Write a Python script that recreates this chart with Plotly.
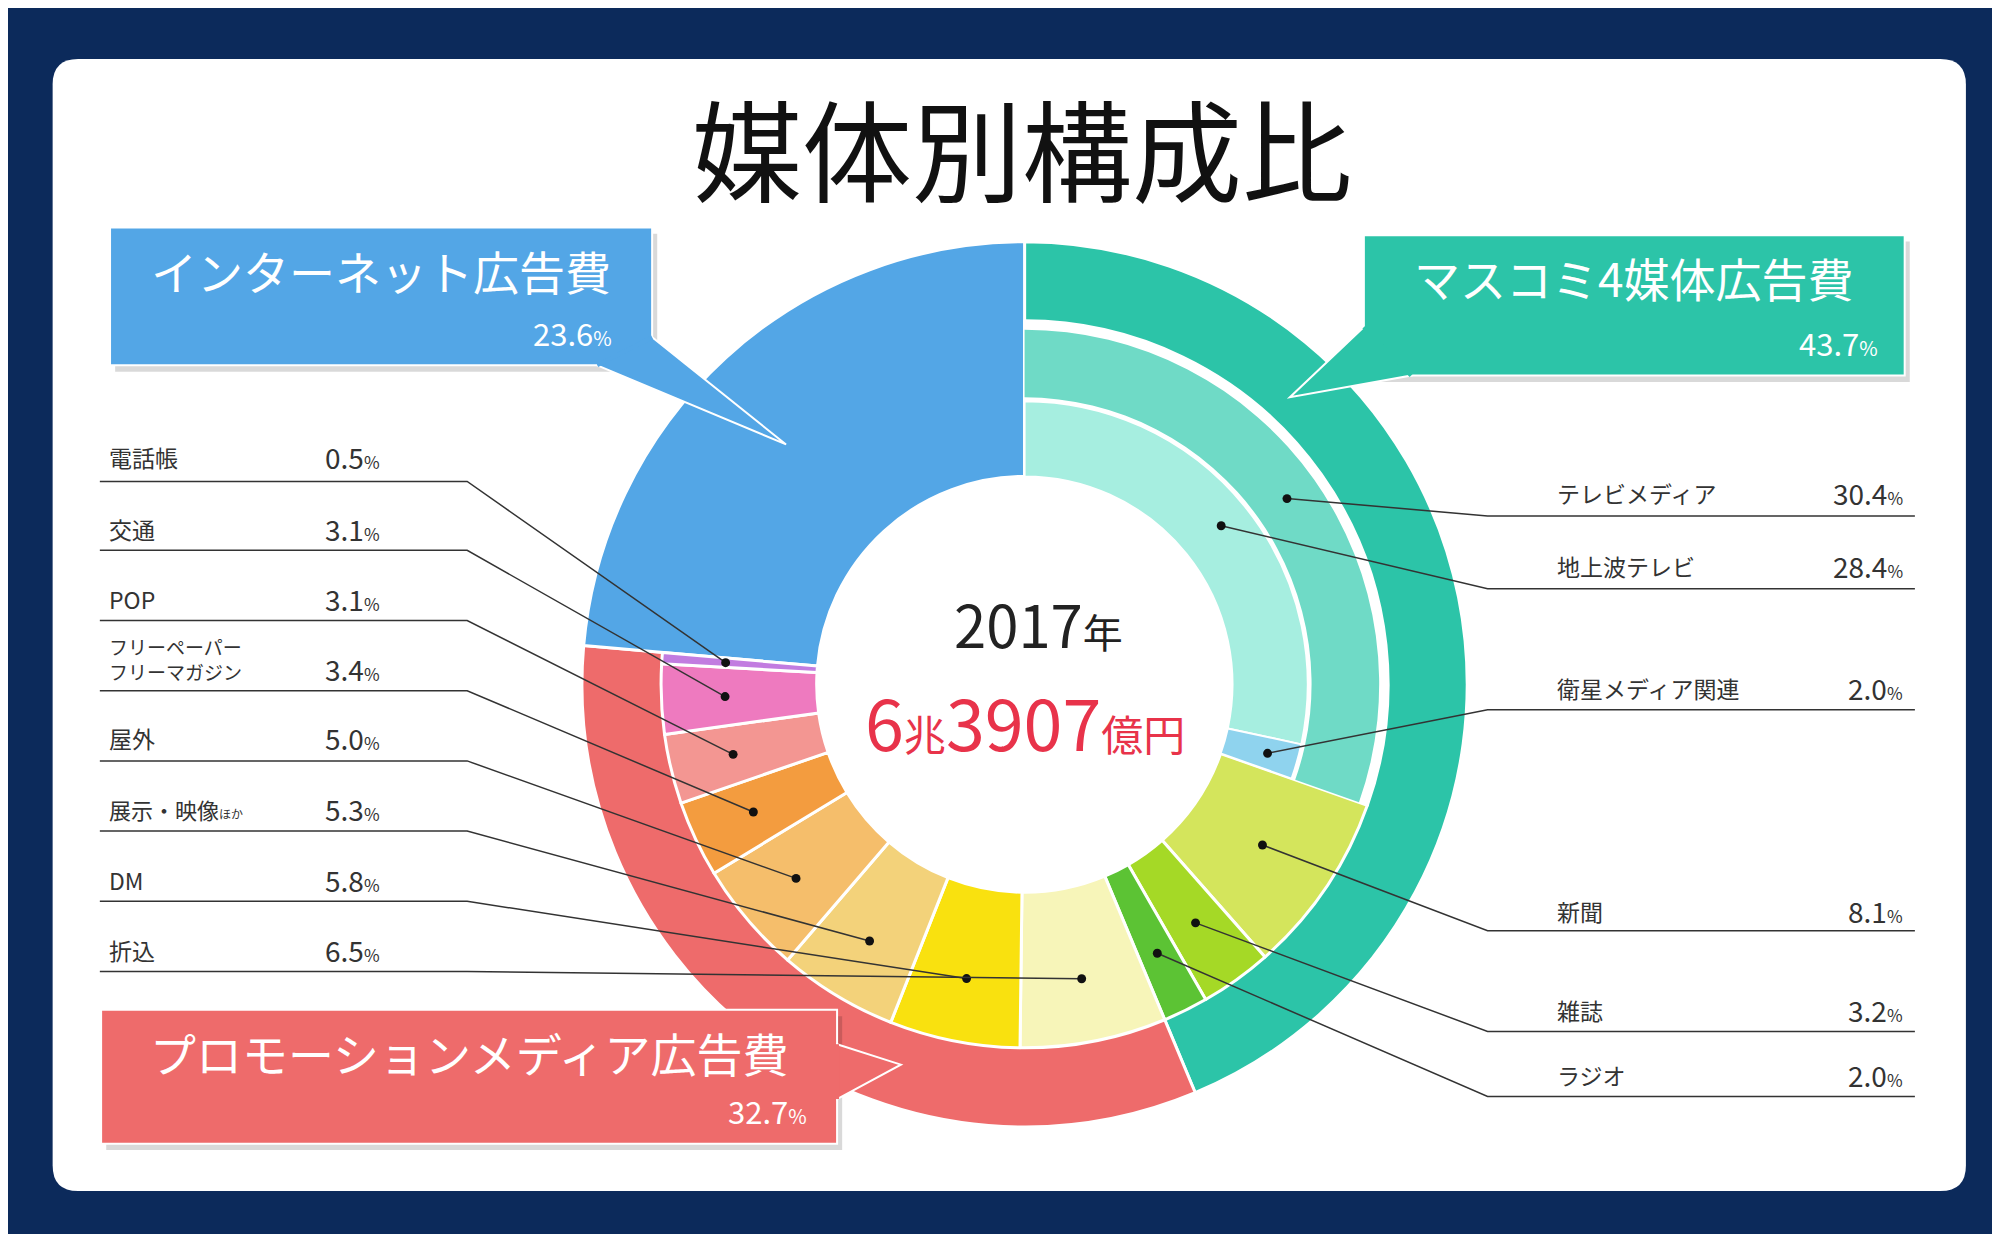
import math
import plotly.graph_objects as go

# ---- data ----
groups = ["マスコミ4媒体広告費", "プロモーションメディア広告費", "インターネット広告費"]
group_pct = [43.7, 32.7, 23.6]

mass_names = ["テレビメディア", "新聞", "雑誌", "ラジオ"]
mass_pct = [30.4, 8.1, 3.2, 2.0]
tv_names = ["地上波テレビ", "衛星メディア関連"]
tv_pct = [28.4, 2.0]

promo_names = ["折込", "DM", "展示・映像ほか", "屋外", "フリーペーパー・フリーマガジン", "POP", "交通", "電話帳"]
promo_pct = [6.5, 5.8, 5.3, 5.0, 3.4, 3.1, 3.1, 0.5]

year_text = "2017"
total_text = ["6", "兆", "3907", "億円"]

# ---- styles ----
FONT = "Noto Sans CJK JP"
TEAL, RED, BLUE = "#2CC4A8", "#EE6B6B", "#53A6E6"
mass_colors = ["#FFFFFF", "#D4E55C", "#A5D926", "#5CC334"]
tv_mid_color = "#6FDAC6"
tv_colors = ["#A6EEE0", "#8FD3EE"]
promo_colors = ["#F7F5B9", "#F9E10F", "#F3D27A", "#F5BE6B", "#F39C3F", "#F39692", "#EE7ABF", "#C27CE0"]

W, H = 1568, 967          # reference pixel space
CX, CY = 797, 530
R_OUT, R_MID, R_TVM_IN, R_IN, R_HOLE = 347, 285, 225, 222, 163
R_TVM = 278


def dom(r):
    return dict(x=[(CX - r) / W, (CX + r) / W], y=[1 - (CY + r) / H, 1 - (CY - r) / H])


fig = go.Figure()
common = dict(sort=False, direction="clockwise", rotation=0, textinfo="none",
              hoverinfo="skip", showlegend=False)

# outer ring (internet fills down to the hole)
fig.add_trace(go.Pie(values=group_pct, domain=dom(R_OUT), hole=R_HOLE / R_OUT,
                     marker=dict(colors=[TEAL, RED, BLUE], line=dict(color="white", width=3)), **common))

# middle ring
mid_vals = mass_pct + promo_pct + [group_pct[2]]
mid_cols = mass_colors + promo_colors + ["rgba(0,0,0,0)"]
mid_w = [3] * (len(mid_vals) - 1) + [0]
fig.add_trace(go.Pie(values=mid_vals, domain=dom(R_MID), hole=R_HOLE / R_MID,
                     marker=dict(colors=mid_cols, line=dict(color="white", width=mid_w)), **common))

rest = round(100 - mass_pct[0], 1)
fig.add_trace(go.Pie(values=[mass_pct[0], rest], domain=dom(R_TVM), hole=R_TVM_IN / R_TVM,
                     marker=dict(colors=[tv_mid_color, "rgba(0,0,0,0)"], line=dict(width=0)), **common))
fig.add_trace(go.Pie(values=tv_pct + [rest], domain=dom(R_IN), hole=R_HOLE / R_IN,
                     marker=dict(colors=tv_colors + ["rgba(0,0,0,0)"],
                                 line=dict(color="white", width=[2, 2, 0])), **common))


def point(start, pct, r):
    a = math.radians((start + pct / 2) * 3.6)
    return CX + r * math.sin(a), CY - r * math.cos(a)


shapes, annos = [], []


def rpath(x0, y0, x1, y1, r):
    return (f"M{x0+r},{y0} L{x1-r},{y0} Q{x1},{y0} {x1},{y0+r} L{x1},{y1-r} Q{x1},{y1} {x1-r},{y1} "
            f"L{x0+r},{y1} Q{x0},{y1} {x0},{y1-r} L{x0},{y0+r} Q{x0},{y0} {x0+r},{y0} Z")


# white card
shapes.append(dict(type="path", path=rpath(35, 40, 1535, 927, 20), fillcolor="white",
                   line=dict(width=0), layer="below", xref="x", yref="y"))


def leader(path, dx, dy):
    shapes.append(dict(type="path", path=path, line=dict(color="#333", width=1.5), xref="x", yref="y"))
    shapes.append(dict(type="circle", x0=dx - 3.5, x1=dx + 3.5, y0=dy - 3.5, y1=dy + 3.5,
                       fillcolor="#111", line=dict(width=0), xref="x", yref="y"))


def pct_html(v, small=17):
    return f"{v:.1f}<span style='font-size:{small}px'>%</span>"


# left labels (promotion, listed top to bottom)
left_rows = [(352, 371), (408, 425), (463, 480), (510, 535), (572, 590), (628, 645), (683, 700), (738, 755)]
starts = []
acc = sum(mass_pct)
for p in promo_pct:
    starts.append(acc)
    acc += p
order = list(range(len(promo_pct)))[::-1]
for (ty, ly), i in zip(left_rows, order):
    dx, dy = point(starts[i], promo_pct[i], 235)
    leader(f"M72,{ly} L360,{ly} L{dx},{dy}", dx, dy)
    name = promo_names[i]
    if name.startswith("フリー"):
        name = "フリーペーパー<br>フリーマガジン"
        size = 19
    elif name.startswith("展示"):
        name = "展示・映像<span style='font-size:12px'>ほか</span>"
        size = 22
    else:
        size = 23
    annos.append(dict(x=78, y=ty, text=name, xanchor="left", yanchor="middle", showarrow=False,
                      font=dict(size=size, color="#333", family=FONT), align="left"))
    annos.append(dict(x=247, y=ty + (8 if i == 4 else 0), text=pct_html(promo_pct[i]), xanchor="left",
                      yanchor="middle", showarrow=False, font=dict(size=28, color="#333", family=FONT)))

# right labels (mass media)
right_items = [
    (380, 398, mass_names[0], mass_pct[0], point(0, mass_pct[0], 252)),
    (437, 455, tv_names[0], tv_pct[0], point(0, tv_pct[0], 198)),
    (533, 550, tv_names[1], tv_pct[1], point(tv_pct[0], tv_pct[1], 198)),
    (708, 723, mass_names[1], mass_pct[1], point(mass_pct[0], mass_pct[1], 225)),
    (785, 802, mass_names[2], mass_pct[2], point(sum(mass_pct[:2]), mass_pct[2], 230)),
    (836, 853, mass_names[3], mass_pct[3], point(sum(mass_pct[:3]), mass_pct[3], 235)),
]
for ty, ly, name, v, (dx, dy) in right_items:
    leader(f"M1495,{ly} L1160,{ly} L{dx},{dy}", dx, dy)
    annos.append(dict(x=1213, y=ty, text=name, xanchor="left", yanchor="middle", showarrow=False,
                      font=dict(size=23, color="#333", family=FONT)))
    annos.append(dict(x=1487, y=ty, text=pct_html(v), xanchor="right", yanchor="middle", showarrow=False,
                      font=dict(size=28, color="#333", family=FONT)))


# callout boxes
def callout(x0, y0, x1, y1, tail, color, title, v, tx):
    shapes.append(dict(type="path", path=f"M{x0+4},{y0+5} L{x1+4},{y0+5} L{x1+4},{y1+5} L{x0+4},{y1+5} Z",
                       fillcolor="rgba(0,0,0,0.15)", line=dict(width=0), xref="x", yref="y"))
    shapes.append(dict(type="path", path=f"M{x0},{y0} L{x1},{y0} L{x1},{y1} L{x0},{y1} Z", fillcolor=color,
                       line=dict(color="white", width=2), xref="x", yref="y"))
    shapes.append(dict(type="path", path="M" + " L".join(f"{a},{b}" for a, b in tail) + " Z", fillcolor=color,
                       line=dict(color="white", width=2), xref="x", yref="y"))
    shapes.append(dict(type="path", path="M" + " L".join(f"{a},{b}" for a, b in [tail[0], tail[2]]),
                       line=dict(color=color, width=4), xref="x", yref="y"))
    annos.append(dict(x=(x0 + x1) / 2, y=y0 + 33, text=title, showarrow=False, xanchor="center", yanchor="middle",
                      font=dict(size=46, color="white", family=FONT)))
    annos.append(dict(x=tx, y=y1 - 26, text=f"{v:.1f}<span style='font-size:20px'>%</span>", showarrow=False,
                      xanchor="right", yanchor="middle", font=dict(size=31, color="white", family=FONT)))


callout(80, 172, 505, 280, [(462, 280), (610, 342), (505, 258)], BLUE, groups[2], group_pct[2], 475)
callout(1063, 178, 1487, 288, [(1063, 250), (1005, 305), (1100, 288)], TEAL, groups[0], group_pct[0], 1468)
callout(73, 785, 650, 890, [(650, 812), (700, 828), (650, 855)], RED, groups[1], group_pct[1], 628)

# title & centre
annos.append(dict(x=795, y=108, text="媒体別構成比", showarrow=False, xanchor="center", yanchor="middle",
                  font=dict(size=110, color="#111", family=FONT)))
annos.append(dict(x=808, y=482, text=f"{year_text}<span style='font-size:40px'>年</span>", showarrow=False,
                  font=dict(size=58, color="#222", family=FONT)))
annos.append(dict(x=797, y=558,
                  text=(f"{total_text[0]}<span style='font-size:42px'>{total_text[1]}</span>{total_text[2]}"
                        f"<span style='font-size:42px'>{total_text[3]}</span>"),
                  showarrow=False, font=dict(size=70, color="#E8334A", family=FONT)))

fig.update_layout(
    width=2000, height=1234, margin=dict(l=0, r=0, t=0, b=0),
    paper_bgcolor="#0C2A5B", plot_bgcolor="rgba(0,0,0,0)",
    xaxis=dict(range=[0, W], visible=False, domain=[0, 1], fixedrange=True),
    yaxis=dict(range=[H, 0], visible=False, domain=[0, 1], fixedrange=True),
    shapes=shapes, annotations=annos, font=dict(family=FONT),
)
fig.write_html("out.html")
